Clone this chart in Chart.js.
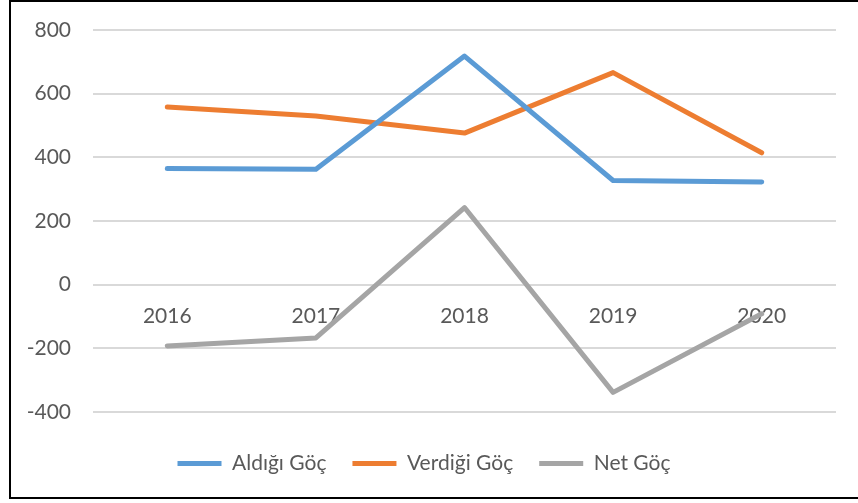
<!DOCTYPE html>
<html lang="tr">
<head>
  <meta charset="UTF-8" />
  <title>Göç</title>
  <script src="https://cdn.jsdelivr.net/npm/chart.js"></script>
  <style>
    html, body { margin: 0; padding: 0; background: #fff; overflow: hidden; }
    #wrap { position: relative; width: 858px; height: 503px; }
    #chart { position: absolute; left: 0; top: 0; }
    #frame {
      position: absolute; left: 9px; top: 0; width: 860px; height: 499px;
      border: 2px solid #000; box-sizing: border-box; pointer-events: none;
    }
  </style>
</head>
<body>
  <div id="wrap">
    <canvas id="chart" width="858" height="503"></canvas>
    <div id="frame"></div>
  </div>

  <script>
    // Veriler
    const yillar = ["2016", "2017", "2018", "2019", "2020"];
    const aldigiGoc = [365, 362, 718, 327, 322];
    const verdigiGoc = [558, 530, 476, 666, 414];
    const netGoc = [-193, -168, 242, -339, -92];
    const yMin = -400, yMax = 800, yAdim = 200;

    const yaziRengi = "#595959";
    const izgara = "#d9d9d9";
    const yazi = { family: "Lato, 'Open Sans', sans-serif", size: 21 };

    function seri(ad, veri, renk) {
      return {
        label: ad,
        data: veri,
        borderColor: renk,
        backgroundColor: renk,
        borderWidth: 5,
        borderCapStyle: "round",
        borderJoinStyle: "round",
        pointRadius: 0,
        pointStyle: "line",
        tension: 0
      };
    }

    const ctx = document.getElementById("chart").getContext("2d");
    new Chart(ctx, {
      type: "line",
      data: {
        labels: yillar,
        datasets: [
          seri("Aldığı Göç", aldigiGoc, "#5b9bd5"),
          seri("Verdiği Göç", verdigiGoc, "#ed7d31"),
          seri("Net Göç", netGoc, "#a5a5a5")
        ]
      },
      options: {
        responsive: false,
        animation: false,
        layout: { padding: { left: 12, right: 22, top: 30, bottom: 19 } },
        plugins: {
          tooltip: { enabled: false },
          legend: {
            position: "bottom",
            // bos baslik: lejanti biraz asagi itmek icin
            title: { display: true, text: " ", font: { size: 1 }, padding: { top: 0, bottom: 14 } },
            labels: {
              usePointStyle: true,
              pointStyleWidth: 44,
              color: yaziRengi,
              font: yazi,
              padding: 26
            }
          }
        },
        scales: {
          x: {
            position: { y: 0 },
            offset: true,
            grid: { display: false, drawTicks: false },
            border: { display: false },
            ticks: { color: yaziRengi, font: yazi, padding: 19, maxRotation: 0 }
          },
          y: {
            min: yMin,
            max: yMax,
            afterFit: s => { s.width = 81; s.paddingTop = 0; s.paddingBottom = 0; },
            grid: { color: izgara, lineWidth: 2, drawTicks: false },
            border: { display: false },
            ticks: { stepSize: yAdim, color: yaziRengi, font: yazi, padding: 22 }
          }
        }
      }
    });
  </script>
</body>
</html>
